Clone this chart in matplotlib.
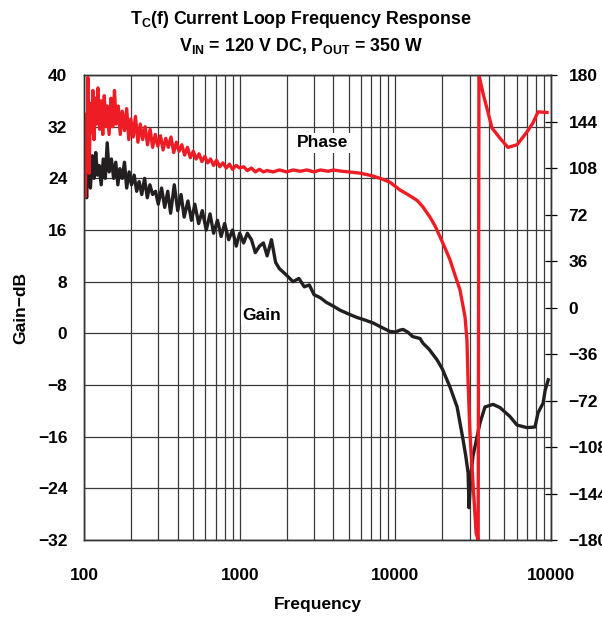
import matplotlib
matplotlib.use("Agg")
from matplotlib import pyplot as plt

plt.rcParams["font.family"] = ["Liberation Sans", "DejaVu Sans"]
plt.rcParams["font.weight"] = "bold"
plt.rcParams["mathtext.fontset"] = "custom"
plt.rcParams["mathtext.rm"] = "Liberation Sans:bold"
plt.rcParams["mathtext.bf"] = "Liberation Sans:bold"

# gain (dB)
gain_freq = [100, 102, 104, 106, 108, 110, 113, 116, 119, 122, 125, 129, 133, 137, 141, 145,
             150, 155, 160, 165, 170, 176, 182, 188, 195, 202, 210, 218, 226, 235, 245, 255,
             265, 276, 288, 300, 315, 330, 345, 360, 380, 400, 420, 440, 465, 490, 515, 545,
             575, 610, 645, 680, 720, 760, 800, 850, 900, 950, 1000, 1060, 1120, 1190, 1260,
             1340, 1420, 1500, 1600, 1700, 1800, 1900, 2000, 2200, 2400, 2600, 2800, 3000,
             3300, 3600, 4000, 4400, 5000, 5600, 6300, 7200, 8200, 9200, 10000, 10700, 11200,
             12000, 12900, 14400, 15000, 16500, 18500, 20000, 22400, 24900, 27200, 28300,
             29300, 29700, 30500, 31500, 32400, 34900, 37600, 42400, 47000, 54500, 60400,
             70000, 78800, 82400, 88800, 91600, 95800]
gain_db = [22, 27, 21, 28, 25, 22.5, 27.5, 24, 28, 24.5, 26, 23, 27, 24, 29.5, 25,
           27, 24, 26.5, 23, 25.5, 24, 26.5, 22.5, 25, 23, 24.5, 22, 23.5, 21.5, 24, 21,
           23, 21.5, 22, 20, 22.5, 19.5, 22, 18.6, 23, 19, 21.5, 18, 20.5, 17.5, 20, 17,
           19, 16, 18.5, 15.5, 17.5, 15, 17, 14.5, 16, 13.5, 15.5, 14, 15.5, 14.5, 12.5,
           13.5, 14, 12, 14.5, 11, 10, 9.5, 9, 8, 8.5, 7.2, 7.5, 6,
           5.5, 4.8, 4.2, 3.6, 3.0, 2.5, 2.1, 1.6, 0.9, 0.3, 0.2, 0.5, 0.6,
           0.2, -0.5, -0.8, -1.5, -2.5, -4.1, -5.5, -8.3, -11.4, -16.5, -19,
           -21.6, -27, -22, -19, -17.6, -13.9, -11.4, -11, -11.5, -12.9, -14.2,
           -14.6, -14.5, -12.3, -10.8, -8.8, -7.2]

# phase (degrees)
phase_freq = [100, 101, 102, 103, 104, 105, 106, 107, 108, 110, 112, 114, 116, 118, 120, 123,
              126, 129, 132, 135, 138, 141, 145, 149, 153, 157, 161, 166, 171, 176, 182, 188,
              194, 200, 207, 214, 222, 230, 238, 247, 256, 266, 276, 287, 298, 310, 322, 335,
              348, 362, 377, 392, 408, 425, 443, 462, 482, 503, 525, 548, 572, 597, 623, 650,
              680, 710, 745, 780, 820, 860, 900, 950, 1000, 1060, 1120, 1190, 1260, 1340, 1420,
              1500, 1640, 1800, 2000, 2200, 2450, 2700, 3000, 3300, 3700, 4000, 4400, 5000,
              5930, 6500, 7180, 8200, 9230, 10700, 12000, 13760, 15000, 16670, 18000, 19300,
              21000, 22400, 24000, 26000, 28000, 28800, 29300, 30100, 31500, 33000, 34000,
              34400, 36500, 39400, 41700, 47000, 52800, 60400, 70000, 76500, 82400, 94100]
phase_deg = [100, 132, 86, 125, 150, 112, 178, 142, 104, 158, 136, 168, 130, 162, 142, 170,
             138, 160, 134, 164, 140, 156, 134, 162, 140, 168, 142, 156, 134, 152, 137, 154,
             130, 146, 132, 148, 128, 142, 130, 140, 126, 138, 124, 134, 125, 133, 122, 131,
             124, 132, 120, 128, 121, 126, 118, 124, 116, 121, 115, 119, 113, 117, 112, 115,
             110, 114, 109, 112, 108, 111, 107, 110, 108, 109, 106, 108, 105, 107, 105,
             106, 105, 106.5, 105, 106.5, 105.5, 106.5, 105, 106.5, 105.5, 106.5, 105.7, 105,
             104, 103, 101.8, 99.5, 97, 91, 87.5, 83, 78, 70, 63, 55,
             45, 37, 26, 13.5, -7.4, -25, -58, -97, -136, -175, -180,
             180, 166, 150.6, 139, 131, 124, 126, 136, 143, 151.5, 151]

gain_ticks = list(range(-32, 41, 8))
phase_ticks = list(range(-180, 181, 36))
freq_ticks = [100, 1000, 10000, 100000]
freq_labels = ["100", "1000", "10000", "10000"]

RED = "#ee1c24"
BLACK = "#231f20"


def plot_loop_response():
    fig = plt.figure(figsize=(6.02, 6.17), dpi=100)
    ax = fig.add_axes([0.1395, 0.1248, 0.776, 0.7536])
    ax2 = ax.twinx()

    ax.plot(gain_freq, gain_db, color=BLACK, lw=2.4, solid_joinstyle="round")
    ax2.plot(phase_freq, phase_deg, color=RED, lw=2.4, solid_joinstyle="round")

    ax.set_xscale("log")
    ax.set_xlim(100, 100000)
    ax.set_ylim(-32, 40)
    ax2.set_ylim(-180, 180)

    ax.set_xticks(freq_ticks)
    ax.set_xticklabels(freq_labels)
    ax.set_yticks(gain_ticks)
    ax2.set_yticks(phase_ticks)
    ax.minorticks_on()
    ax.yaxis.set_minor_locator(matplotlib.ticker.NullLocator())

    ax.grid(True, which="both", axis="x", color="#3a3a3a", lw=0.9)
    ax.grid(True, which="major", axis="y", color="#3a3a3a", lw=0.9)

    ax.tick_params(axis="both", which="both", length=0, labelsize=12.5, pad=12)
    ax.tick_params(axis="x", pad=20)
    ax2.tick_params(axis="y", direction="inout", length=9, width=0.9, labelsize=12.5, pad=8)

    for a in (ax, ax2):
        for s in a.spines.values():
            s.set_linewidth(1.0)
            s.set_color("#333333")

    ax.set_xlabel("Frequency", fontsize=12.5, fontweight="bold", labelpad=10)
    ax.set_ylabel("Gain\u2212dB", fontsize=12.5, fontweight="bold", labelpad=7)

    ax2.text(3430, 127.4, "Phase", fontsize=12.5, fontweight="bold", ha="center", va="center",
             bbox=dict(facecolor="white", edgecolor="none", pad=1.5), zorder=5)
    ax2.text(1390, 2.7, "Gain", fontsize=12.5, fontweight="bold", ha="center", va="center",
             transform=ax.transData,
             bbox=dict(facecolor="white", edgecolor="none", pad=1.5), zorder=5)

    fig.suptitle("T$_{\\mathbf{C}}$(f) Current Loop Frequency Response\n"
                 "V$_{\\mathbf{IN}}$ = 120 V DC, P$_{\\mathbf{OUT}}$ = 350 W",
                 fontsize=12.8, fontweight="bold", y=0.985, linespacing=1.4)

    fig.savefig("out.png", dpi=100)


def main():
    plot_loop_response()


if __name__ == "__main__":
    main()
